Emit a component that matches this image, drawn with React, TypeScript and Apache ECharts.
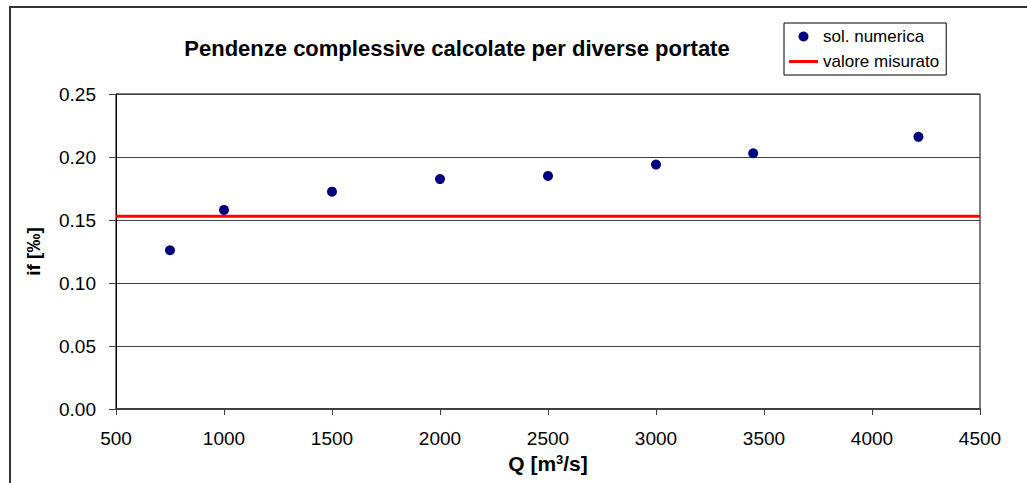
import { useEffect, useRef } from "react";
import * as echarts from "echarts";

// Portate Q [m³/s] e pendenze calcolate if [‰]
const portate = [750, 1000, 1500, 2000, 2500, 3000, 3450, 4215];
const pendenze = [0.126, 0.158, 0.1725, 0.1825, 0.185, 0.194, 0.203, 0.216];
const valoreMisurato = 0.153;
const xLimits = [500, 4500];
const yLimits = [0, 0.25];

const FONT = "'Liberation Sans', Arial, sans-serif";

export default function App() {
  const ref = useRef<HTMLDivElement>(null);

  useEffect(() => {
    document.body.style.margin = "0";
    if (!ref.current) return;
    const chart = echarts.init(ref.current, null, { renderer: "svg" });

    const numerica = portate.map((q, i) => [q, pendenze[i]]);
    const misurato = xLimits.map((q) => [q, valoreMisurato]);

    chart.setOption({
      animation: false,
      backgroundColor: "#ffffff",
      textStyle: { fontFamily: FONT },
      title: {
        text: "Pendenze complessive calcolate per diverse portate",
        left: 452,
        top: 32,
        textAlign: "center",
        textStyle: { fontFamily: FONT, fontSize: 22, fontWeight: "bold", color: "#000" },
      },
      legend: {
        orient: "vertical",
        left: 784,
        top: 23,
        padding: [5, 7, 5, 5],
        itemGap: 8,
        itemWidth: 29,
        itemHeight: 10,
        borderColor: "#000",
        borderWidth: 1,
        textStyle: { fontFamily: FONT, fontSize: 17, color: "#000" },
        data: [
          { name: "sol. numerica", icon: "circle" },
          { name: "valore misurato", icon: "path://M0,0h29v3h-29z" },
        ],
      },
      graphic: [
        {
          type: "rect",
          shape: { x: 10, y: 7, width: 2000, height: 2000 },
          style: { fill: "none", stroke: "#333", lineWidth: 2 },
          silent: true,
        },
      ],
      grid: {
        left: 116,
        right: 47,
        top: 94,
        bottom: 74,
        show: true,
        borderColor: "#000",
        borderWidth: 1,
        backgroundColor: "transparent",
      },
      xAxis: {
        type: "value",
        min: xLimits[0],
        max: xLimits[1],
        interval: 500,
        name: "{n|Q [m}{s|3}{n|/s]}",
        nameLocation: "middle",
        nameGap: 43,
        nameTextStyle: {
          fontFamily: FONT,
          fontSize: 21,
          fontWeight: "bold",
          color: "#000",
          rich: {
            n: { fontFamily: FONT, fontSize: 21, fontWeight: "bold", color: "#000" },
            s: {
              fontFamily: FONT,
              fontSize: 13,
              fontWeight: "bold",
              color: "#000",
              verticalAlign: "top",
            },
          },
        },
        axisLine: { show: true, lineStyle: { color: "#404040", width: 2 } },
        axisTick: { show: true, inside: false, length: 6, lineStyle: { color: "#404040" } },
        axisLabel: {
          fontFamily: FONT,
          fontSize: 19,
          color: "#000",
          margin: 20,
          formatter: (v: number) => String(v),
        },
        splitLine: { show: false },
      },
      yAxis: {
        type: "value",
        min: yLimits[0],
        max: yLimits[1],
        interval: 0.05,
        name: "if [‰]",
        nameLocation: "middle",
        nameGap: 73,
        nameTextStyle: { fontFamily: FONT, fontSize: 19, fontWeight: "bold", color: "#000" },
        axisLine: { show: true, lineStyle: { color: "#000", width: 1 } },
        axisTick: { show: true, inside: false, length: 7, lineStyle: { color: "#404040" } },
        axisLabel: {
          fontFamily: FONT,
          fontSize: 19,
          color: "#000",
          margin: 20,
          formatter: (v: number) => v.toFixed(2),
        },
        splitLine: { show: true, lineStyle: { color: "#404040", width: 1 } },
      },
      series: [
        {
          name: "sol. numerica",
          type: "scatter",
          data: numerica,
          symbol: "circle",
          symbolSize: 10,
          itemStyle: { color: "#000080", opacity: 1 },
          z: 3,
        },
        {
          name: "valore misurato",
          type: "line",
          data: misurato,
          symbol: "none",
          showSymbol: false,
          lineStyle: { color: "#ff0000", width: 3 },
          itemStyle: { color: "#ff0000" },
          z: 2,
        },
      ],
    });

    return () => chart.dispose();
  }, []);

  return <div ref={ref} style={{ width: 1027, height: 483 }} />;
}
